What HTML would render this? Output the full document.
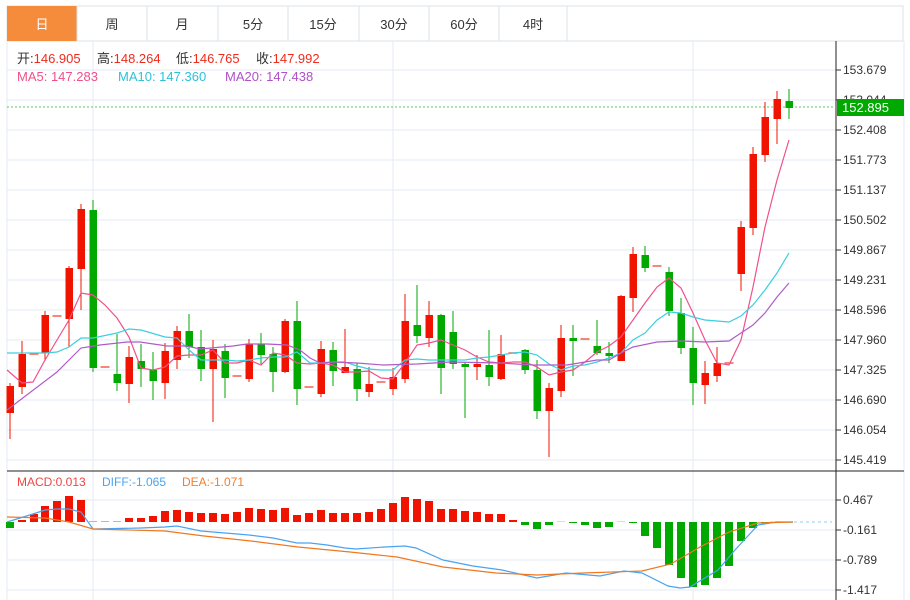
<!DOCTYPE html>
<html><head><meta charset="utf-8"><style>
body{margin:0;background:#fff;width:910px;height:600px;overflow:hidden;font-family:"Liberation Sans","Noto Sans CJK SC",sans-serif}
svg{position:absolute;left:0;top:0}
</style></head><body>
<svg width="910" height="600" xmlns="http://www.w3.org/2000/svg" font-family="Liberation Sans, Noto Sans CJK SC, sans-serif">
<rect x="7" y="6" width="896" height="35" fill="#fff" stroke="#dde3ea"/>
<rect x="7" y="6" width="70" height="35" fill="#f58c3c"/>
<g stroke="#dde3ea"><line x1="147" y1="6" x2="147" y2="41"/><line x1="218" y1="6" x2="218" y2="41"/><line x1="288" y1="6" x2="288" y2="41"/><line x1="359" y1="6" x2="359" y2="41"/><line x1="429" y1="6" x2="429" y2="41"/><line x1="499" y1="6" x2="499" y2="41"/><line x1="567" y1="6" x2="567" y2="41"/><line x1="77" y1="6" x2="77" y2="41"/></g>
<g font-size="13" fill="#333" text-anchor="middle"><text x="42" y="29" fill="#fff">日</text><text x="112" y="29">周</text><text x="182" y="29">月</text><text x="253" y="29">5分</text><text x="323" y="29">15分</text><text x="394" y="29">30分</text><text x="464" y="29">60分</text><text x="533" y="29">4时</text></g>
<g stroke="#e3eaf1" stroke-width="1">
<line x1="7" y1="70" x2="836" y2="70"/><line x1="7" y1="100" x2="836" y2="100"/><line x1="7" y1="130" x2="836" y2="130"/><line x1="7" y1="160" x2="836" y2="160"/><line x1="7" y1="190" x2="836" y2="190"/><line x1="7" y1="220" x2="836" y2="220"/><line x1="7" y1="250" x2="836" y2="250"/><line x1="7" y1="280" x2="836" y2="280"/><line x1="7" y1="310" x2="836" y2="310"/><line x1="7" y1="340" x2="836" y2="340"/><line x1="7" y1="370" x2="836" y2="370"/><line x1="7" y1="400" x2="836" y2="400"/><line x1="7" y1="430" x2="836" y2="430"/><line x1="7" y1="460" x2="836" y2="460"/>
<line x1="7" y1="500" x2="836" y2="500"/><line x1="7" y1="530" x2="836" y2="530"/><line x1="7" y1="560" x2="836" y2="560"/><line x1="7" y1="590" x2="836" y2="590"/>
<line x1="93" y1="41" x2="93" y2="600"/><line x1="393" y1="41" x2="393" y2="600"/><line x1="693" y1="41" x2="693" y2="600"/>
<line x1="7" y1="41" x2="7" y2="600"/><line x1="904" y1="41" x2="904" y2="600"/>
</g>
<line x1="836" y1="41" x2="836" y2="600" stroke="#222"/>
<line x1="7" y1="471" x2="904" y2="471" stroke="#222"/>
<g font-size="13"><text x="17" y="63"><tspan fill="#333">开:</tspan><tspan fill="#f02a1e">146.905</tspan></text><text x="97" y="63"><tspan fill="#333">高:</tspan><tspan fill="#f02a1e">148.264</tspan></text><text x="176" y="63"><tspan fill="#333">低:</tspan><tspan fill="#f02a1e">146.765</tspan></text><text x="256" y="63"><tspan fill="#333">收:</tspan><tspan fill="#f02a1e">147.992</tspan></text>
<text x="17" y="81" fill="#f0508a">MA5: 147.283</text><text x="118" y="81" fill="#2cc2d8">MA10: 147.360</text><text x="225" y="81" fill="#b050c8">MA20: 147.438</text></g>
<g font-size="12"><text x="17" y="486" fill="#f04444">MACD:0.013</text><text x="102" y="486" fill="#4aa3f0">DIFF:-1.065</text><text x="182" y="486" fill="#f08030">DEA:-1.071</text></g>
<g font-size="12" fill="#333"><g stroke="#333"><line x1="836" y1="70" x2="841" y2="70"/><line x1="836" y1="100" x2="841" y2="100"/><line x1="836" y1="130" x2="841" y2="130"/><line x1="836" y1="160" x2="841" y2="160"/><line x1="836" y1="190" x2="841" y2="190"/><line x1="836" y1="220" x2="841" y2="220"/><line x1="836" y1="250" x2="841" y2="250"/><line x1="836" y1="280" x2="841" y2="280"/><line x1="836" y1="310" x2="841" y2="310"/><line x1="836" y1="340" x2="841" y2="340"/><line x1="836" y1="370" x2="841" y2="370"/><line x1="836" y1="400" x2="841" y2="400"/><line x1="836" y1="430" x2="841" y2="430"/><line x1="836" y1="460" x2="841" y2="460"/><line x1="836" y1="500" x2="841" y2="500"/><line x1="836" y1="530" x2="841" y2="530"/><line x1="836" y1="560" x2="841" y2="560"/><line x1="836" y1="590" x2="841" y2="590"/></g>
<text x="843" y="74">153.679</text><text x="843" y="104">153.044</text><text x="843" y="134">152.408</text><text x="843" y="164">151.773</text><text x="843" y="194">151.137</text><text x="843" y="224">150.502</text><text x="843" y="254">149.867</text><text x="843" y="284">149.231</text><text x="843" y="314">148.596</text><text x="843" y="344">147.960</text><text x="843" y="374">147.325</text><text x="843" y="404">146.690</text><text x="843" y="434">146.054</text><text x="843" y="464">145.419</text>
<text x="843" y="504">0.467</text><text x="843" y="534">-0.161</text><text x="843" y="564">-0.789</text><text x="843" y="594">-1.417</text></g>
<line x1="7" y1="107" x2="836" y2="107" stroke="#5cc85c" stroke-dasharray="2,2"/>
<rect x="837" y="99" width="67" height="17" fill="#00a800"/><text x="842" y="112" font-size="13" fill="#fff">152.895</text>
<g id="c"></g>
<polyline fill="none" stroke="#f0508a" stroke-width="1.2" points="7,370 22,383 33,382 45,360 57,340 69,320 81,293 93,295 105,305 117,318 129,337 141,368 153,370 165,367 177,356 189,355 201,355 213,350 225,363 237,363 249,360 261,365 273,353 285,355 297,363 310,364 321,363 333,365 345,372 357,372 369,371 381,378 393,379 405,363 417,345 429,343 441,340 453,345 465,350 477,357 489,362 501,363 513,362 525,362 537,367 549,375 561,372 573,370 585,362 597,352 609,346 621,337 633,320 645,303 657,287 669,278 681,288 693,313 705,340 717,363 729,365 741,340 753,287 765,227 777,180 789,140"/>
<polyline fill="none" stroke="#3ccfe0" stroke-width="1.2" points="7,353 45,353 57,352 69,347 81,338 93,338 117,333 129,329 141,330 165,337 177,338 189,350 201,360 213,360 225,360 237,361 249,360 261,358 273,357 285,357 297,352 310,363 321,363 333,362 345,362 357,366 369,369 381,370 393,370 405,360 417,359 429,360 441,360 453,360 465,360 477,358 489,357 501,355 513,353 525,352 537,355 549,364 561,370 573,366 585,365 597,362 609,358 621,353 633,340 645,333 657,320 669,312 681,313 693,317 705,320 717,321 729,322 741,316 753,305 765,290 777,273 789,253"/>
<polyline fill="none" stroke="#b05cc8" stroke-width="1.2" points="7,410 57,372 81,348 100,345 127,342 140,342 167,346 187,346 200,349 233,346 247,344 267,344 287,345 300,350 310,358 320,363 333,362 357,363 383,365 417,364 450,362 500,363 533,365 567,365 597,360 609,360 621,353 633,347 657,342 681,341 705,342 729,341 741,333 753,325 765,313 777,297 789,283"/>
<g id="m"></g>
<line x1="770" y1="522" x2="832" y2="522" stroke="#8fd0ec" stroke-dasharray="3,3"/>
<polyline fill="none" stroke="#4aa3f0" stroke-width="1.2" points="7,522 33,514 45,510 57,509 69,509 81,512 93,529 141,528 165,527 177,526 201,531 225,533 249,535 273,538 297,543 310,543 327,545 345,548 356,549 385,547 405,546 416,548 443,560 473,566 502,570 537,578 566,573 600,576 624,571 642,573 668,586 680,588 690,587 718,570 735,550 758,525 776,522 793,522"/>
<polyline fill="none" stroke="#f07820" stroke-width="1.2" points="7,517 45,518 57,520 69,522 93,529 165,531 204,536 251,541 298,547 350,552 397,557 443,567 496,573 537,575 583,573 642,571 671,564 700,547 729,532 758,523 793,522"/>
</svg>
<script>
var C=[[10,1,386,413,383,439],[22,1,354,387,341,394],[34,1,354,356,354,356],[45,1,315,353,311,361],[57,1,316,318,300,331],[69,1,268,319,266,347],[81,1,209,269,204,310],[93,0,210,368,200,372],[105,1,367,369,367,369],[117,0,374,383,334,391],[129,1,357,384,346,403],[141,0,361,369,344,387],[153,0,370,381,352,400],[165,1,351,383,343,399],[177,1,331,360,326,369],[189,0,331,347,314,358],[201,0,347,369,330,381],[213,1,349,369,340,422],[225,0,351,378,344,398],[237,1,376,378,376,378],[249,1,344,379,339,382],[261,0,344,355,333,364],[273,0,354,372,347,392],[285,1,321,372,319,373],[297,0,321,389,301,405],[309,1,387,389,387,389],[321,1,349,394,341,397],[333,0,350,371,342,386],[345,1,367,373,329,373],[357,0,369,389,363,401],[369,1,384,392,367,397],[381,1,382,384,382,384],[393,1,377,389,368,395],[405,1,321,379,294,383],[417,0,325,336,285,343],[429,1,315,338,301,347],[441,0,315,368,314,394],[453,0,332,364,311,369],[465,0,364,367,363,418],[477,1,364,367,355,380],[489,0,365,377,330,386],[501,1,354,379,335,380],[513,1,353,355,353,355],[525,0,350,370,349,374],[537,0,370,411,360,419],[549,1,388,411,383,457],[561,1,338,391,325,397],[573,0,338,341,325,376],[585,1,339,341,339,341],[597,0,346,353,320,355],[609,0,353,356,342,363],[621,1,296,361,295,361],[633,1,254,298,247,312],[645,0,255,268,246,272],[657,1,266,268,266,268],[669,0,272,311,267,316],[681,0,313,348,298,354],[693,0,348,383,327,405],[705,1,373,385,361,404],[717,1,363,376,347,382],[729,1,363,365,363,365],[741,1,227,274,221,291],[753,1,154,228,147,235],[765,1,117,155,102,162],[777,1,99,119,91,144],[789,0,101,108,89,119]];
var M=[-528,520,514,506,501,496,500,521,521,521,518,518,516,511,510,512,513,513,514,512,508,509,510,508,515,513,510,513,513,513,512,509,503,497,499,501,509,509,511,512,514,514,520,-525,-529,-525,521.5,-523,-525,-528,-527,521.5,-523,-536,-548,-565,-578,-587,-585,-578,-566,-541,-528,-523,-522.8,-522.4];
var s='';
C.forEach(function(c){var col=c[1]?'#f01400':'#00a800';var h=c[3]-c[2];
if(h<3){s+='<line x1="'+(c[0]-4.5)+'" y1="'+c[2]+'" x2="'+(c[0]+4.5)+'" y2="'+c[2]+'" stroke="#f06050" stroke-width="1.5"/>';}
else{s+='<line x1="'+c[0]+'" y1="'+c[4]+'" x2="'+c[0]+'" y2="'+c[5]+'" stroke="'+col+'"/><rect x="'+(c[0]-3.5)+'" y="'+c[2]+'" width="7.5" height="'+h+'" fill="'+col+'"/>';}});
document.getElementById('c').innerHTML=s;
var t='';M.forEach(function(v,i){var x=C[i][0]-4;var z=522;if(v<0){v=-v;t+='<rect x="'+x+'" y="'+z+'" width="8" height="'+Math.max(v-z,0.6)+'" fill="#00a800"/>';}else{t+='<rect x="'+x+'" y="'+v+'" width="8" height="'+(z-v)+'" fill="'+((z-v)<2?'#f0a0a0':'#f01400')+'"/>';}});
document.getElementById('m').innerHTML=t;
</script>
</body></html>
